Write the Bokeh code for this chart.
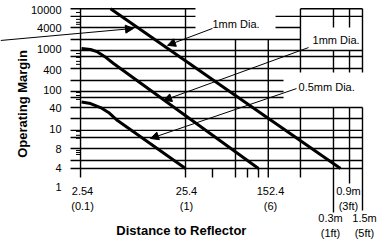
import numpy as np
from bokeh.plotting import figure
from bokeh.models import Range1d, Arrow, NormalHead
from bokeh.core.properties import value
from bokeh.embed import file_html
from bokeh.resources import INLINE

# ---------------- data ----------------
# Operating margin axis: labels drawn at equally spaced chart rows
y_tick_labels = ["1", "4", "8", "10", "40", "100", "400", "1000", "4000", "10000"]
y_tick_rows = [0.0, 0.94, 1.93, 2.94, 4.01, 4.92, 5.93, 7.02, 8.06, 9.0]

# Distance to reflector (mm) tick labels
x_tick_pos_1 = [2.654, 25.96, 163.8, 906.0]
x_tick_lab_1 = ["2.54", "25.4", "152.4", "0.9m"]
x_tick_sub_1 = ["(0.1)", "(1)", "(6)", "(3ft)"]
x_tick_pos_2 = [610.7, 1287.0]
x_tick_lab_2 = ["0.3m", "1.5m"]
x_tick_sub_2 = ["(1ft)", "(5ft)"]

# curves: distance (mm) vs operating margin (chart rows)
dist_1mm_top = [4.905, 760.5]
marg_1mm_top = [9.04, 0.94]
dist_1mm_mid = [2.596, 3.163, 3.688, 4.299, 5.238, 125.9]
marg_1mm_mid = [7.02, 6.97, 6.85, 6.62, 6.26, 0.94]
dist_05mm = [2.596, 3.163, 3.938, 4.694, 5.718, 25.4]
marg_05mm = [4.31, 4.23, 4.03, 3.78, 3.37, 0.94]

# horizontal grid rules: row, from (mm), to (mm)
h_rows = [9.04, 9.04, 8.65, 8.65, 8.09, 8.09, 7.48, 6.92, 6.62, 6.01,
          5.40, 4.84, 4.54, 4.03, 3.47, 2.87, 2.51, 1.95, 1.34, 0.94]
h_from = [2.04, 316, 2.04, 183, 2.04, 183, 2.04, 2.04, 2.04, 2.04,
          2.04, 2.04, 2.04, 2.04, 2.04, 2.04, 2.04, 2.04, 2.04, 2.04]
h_to = [31.6, 1232, 31.6, 1232, 31.6, 316, 316, 1232, 1232, 1232,
        218, 218, 218, 1232, 1232, 1232, 1232, 1232, 1232, 1232]

# vertical grid rules: distance (mm), row from, row to
v_dist = [2.54, 25.4, 76.0, 156.0, 316, 316, 652, 652, 652, 927, 927, 927,
          1232, 1232, 45.9, 98.9, 125.9]
v_from = [9.04, 9.04, 7.48, 7.48, 9.04, 4.03, 9.04, 6.92, 4.03, 9.04, 6.92, 4.03,
          9.04, 4.03, 0.94, 0.94, 0.94]
v_to = [0.48, 0.48, 0.48, 0.48, 5.81, 0.48, 8.09, 5.81, -1.29, 8.09, 5.81, 0.18,
        5.81, -1.19, 0.48, 0.48, 0.48]

# minor ticks left of the axis (rows)
minor_rows = [8.85, 8.5, 8.35, 8.25, 6.77, 6.57, 6.37, 6.22, 4.79, 4.64, 4.44,
              2.82, 2.62, 2.47, 1.85, 1.75, 1.65]

# callouts: text, text position, arrow start, arrow tip
call_text = ["1mm Dia.", "1mm Dia.", "0.5mm Dia."]
call_x = [45.9, 411.6, 302.8]
call_y = [8.29, 7.43, 5.05]
arr_x0 = [0.44, 45.9, 377.0, 289.6]
arr_y0 = [7.43, 8.04, 7.07, 4.99]
arr_x1 = [8.12, 17.1, 15.7, 11.79]
arr_y1 = [8.04, 7.18, 4.39, 2.46]

# ---------------- figure ----------------
FONT = value("Liberation Sans")
p = figure(width=389, height=241, x_axis_type="log",
           x_range=Range1d(0.4390, 2227.6), y_range=Range1d(-2.764, 9.457),
           x_axis_location=None, y_axis_location=None,
           toolbar_location=None, output_backend="svg", min_border=0)
p.grid.grid_line_color = None
p.outline_line_color = None
p.background_fill_color = "white"
p.border_fill_color = "white"

p.segment(x0=h_from, y0=h_rows, x1=h_to, y1=h_rows, line_color="black", line_width=1.4)
p.segment(x0=v_dist, y0=v_from, x1=v_dist, y1=v_to, line_color="black", line_width=1.4)
p.segment(x0=[2.30] * len(minor_rows), y0=minor_rows, x1=[2.54] * len(minor_rows),
          y1=minor_rows, line_color="black", line_width=1)

for xs, ys in [(dist_1mm_top, marg_1mm_top), (dist_1mm_mid, marg_1mm_mid), (dist_05mm, marg_05mm)]:
    p.line(xs, ys, line_color="black", line_width=3)

for i in range(len(arr_x0)):
    p.add_layout(Arrow(end=NormalHead(size=8, fill_color="black", line_color="black"),
                       x_start=arr_x0[i], y_start=arr_y0[i], x_end=arr_x1[i], y_end=arr_y1[i],
                       line_color="black", line_width=1))

# callout labels
p.text(x=call_x, y=call_y, text=call_text, text_font=FONT, text_font_size=value("11px"),
       text_align="left", text_baseline="middle", text_color="black")

# y tick labels
p.text(x=[1.675] * len(y_tick_rows), y=y_tick_rows, text=y_tick_labels, text_font=FONT,
       text_font_size=value("11px"), text_align="right", text_baseline="middle", text_color="black")

# x tick labels
p.text(x=x_tick_pos_1, y=[-0.18] * 4, text=x_tick_lab_1, text_font=FONT,
       text_font_size=value("11px"), text_align="center", text_baseline="middle")
p.text(x=x_tick_pos_1, y=[-0.98] * 4, text=x_tick_sub_1, text_font=FONT,
       text_font_size=value("11px"), text_align="center", text_baseline="middle")
p.text(x=x_tick_pos_2, y=[-1.55] * 2, text=x_tick_lab_2, text_font=FONT,
       text_font_size=value("11px"), text_align="center", text_baseline="middle")
p.text(x=x_tick_pos_2, y=[-2.31] * 2, text=x_tick_sub_2, text_font=FONT,
       text_font_size=value("11px"), text_align="center", text_baseline="middle")

# axis titles
p.text(x=[23.2], y=[-2.21], text=["Distance to Reflector"], text_font=FONT,
       text_font_size=value("13px"), text_font_style="bold", text_align="center",
       text_baseline="middle")
p.text(x=[0.711], y=[4.21], text=["Operating Margin"], text_font=FONT,
       text_font_size=value("13px"), text_font_style="bold", text_align="center",
       text_baseline="middle", angle=np.pi / 2)

open("out.html", "w").write(file_html(p, INLINE))
